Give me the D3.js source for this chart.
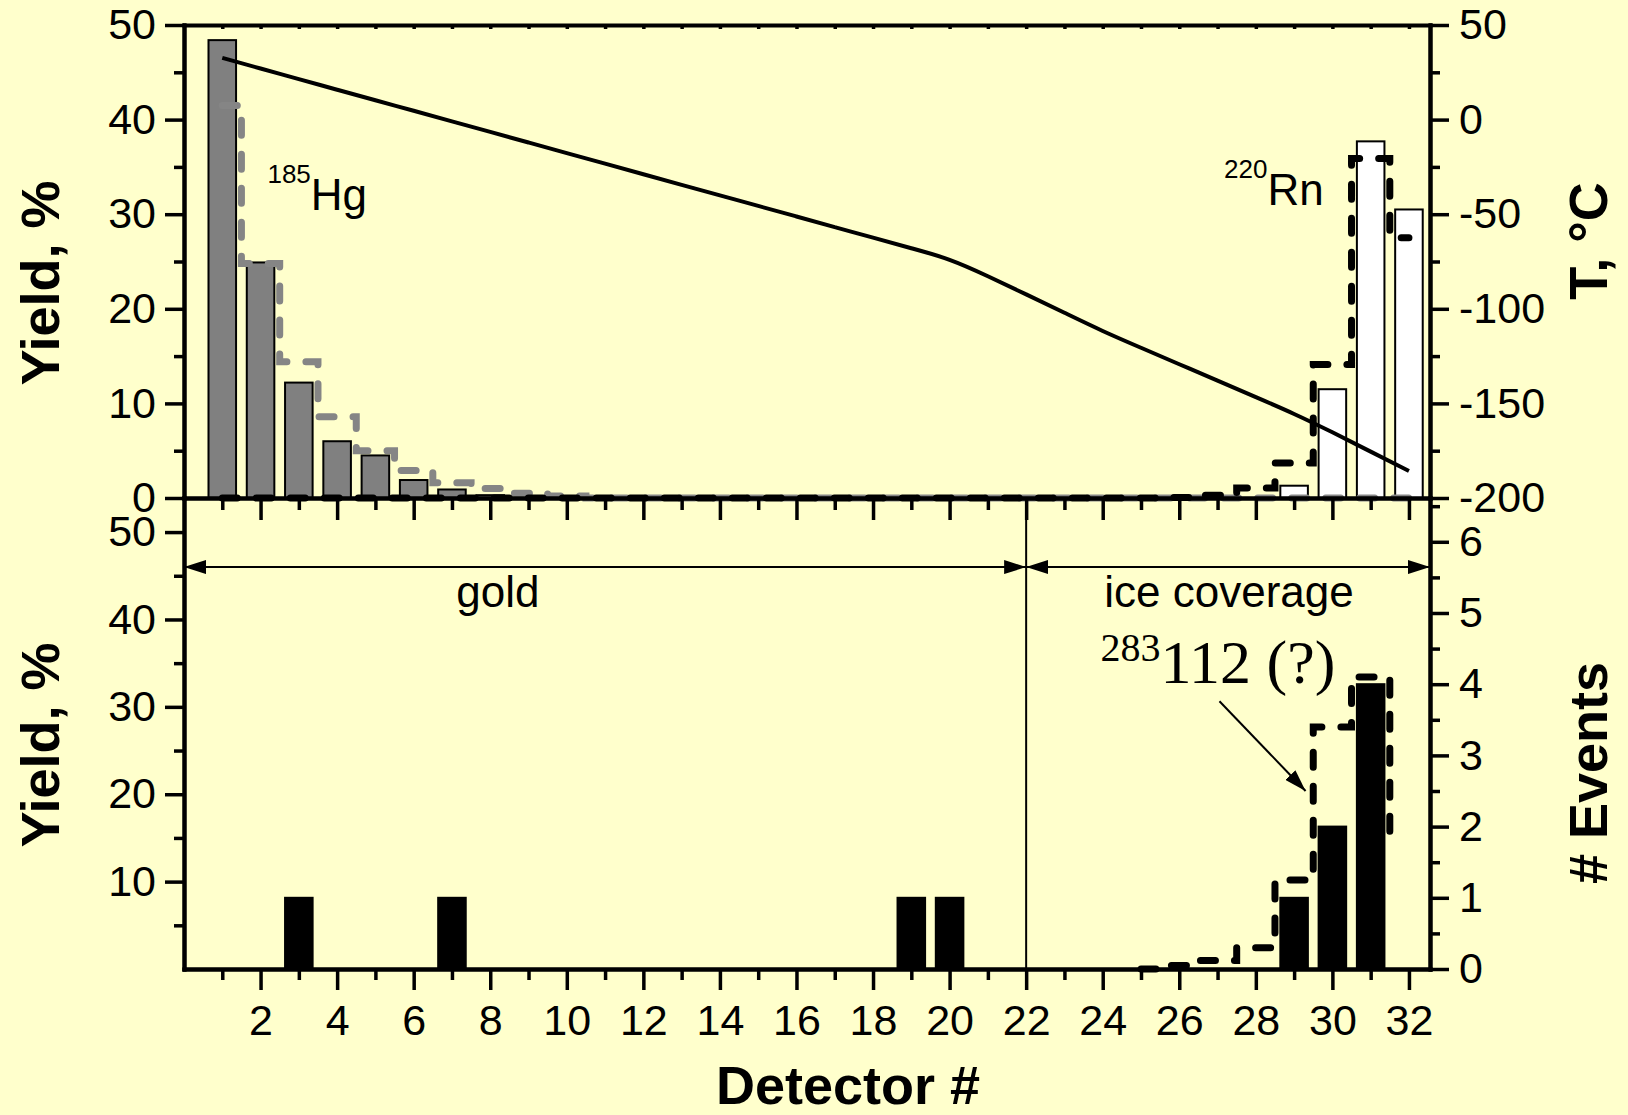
<!DOCTYPE html>
<html>
<head>
<meta charset="utf-8">
<script src="https://cdn.jsdelivr.net/npm/d3@7"></script>
<style>
  html, body { margin: 0; padding: 0; background: #ffffcc; }
  svg text { font-family: "Liberation Sans", Arial, sans-serif; fill: #000; }
</style>
</head>
<body>
<div id="chart"></div>
<script>
// detector numbers along the column
const detectors = d3.range(1, 33);

// top panel: measured yields, %
const hgDetectors = [1, 2, 3, 4, 5, 6, 7, 8];
const hgYield = [48.4, 24.9, 12.2, 6.0, 4.5, 1.9, 0.9, 0.3];
const rnDetectors = [29, 30, 31, 32];
const rnYield = [1.3, 11.5, 37.7, 30.5];

// top panel: simulated distributions (one value per detector 1..32)
const hgSim = [41.5, 24.8, 14.4, 8.6, 5.0, 2.9, 1.6, 1.0, 0.5, 0.2,
  0, 0, 0, 0, 0, 0, 0, 0, 0, 0, 0, 0, 0, 0, 0, 0, 0, 0, 0, 0, 0, 0];
const rnSim = [0, 0, 0, 0, 0, 0, 0, 0, 0, 0, 0, 0, 0, 0, 0, 0, 0, 0, 0, 0,
  0, 0, 0, 0, 0, 0.05, 0.3, 1.05, 3.7, 14.1, 35.9, 27.5];

// temperature profile, °C (detector 1..32)
const temperature = [32.6, 27.0, 21.4, 15.8, 10.2, 4.7, -0.9, -6.5, -12.1, -17.7,
  -23.3, -28.9, -34.5, -40.1, -45.6, -51.2, -56.8, -62.4, -68.0, -73.5,
  -82.7, -92.4, -102.1, -111.9, -120.6, -129.3, -138.0, -146.7, -155.4, -165.2,
  -175.5, -185.7];

// bottom panel: observed events and simulation
const eventDetectors = [3, 7, 19, 20, 29, 30, 31];
const eventCounts = [1, 1, 1, 1, 1, 2, 4];
const eventSimDetectors = [25, 26, 27, 28, 29, 30, 31, 32];
const eventSim = [0, 0.05, 0.12, 0.3, 1.25, 3.4, 4.1, 1.9];

// tick values
const xMajor = d3.range(2, 33, 2);
const xMinor = d3.range(1, 33, 2);
const topYieldTicks = [0, 10, 20, 30, 40, 50];
const topYieldMinor = [5, 15, 25, 35, 45];
const tempTicks = [-200, -150, -100, -50, 0, 50];
const tempMinor = [-175, -125, -75, -25, 25];
const botYieldTicks = [10, 20, 30, 40, 50];
const botYieldMinor = [5, 15, 25, 35, 45];
const eventTicks = [0, 1, 2, 3, 4, 5, 6];
const eventMinor = [0.5, 1.5, 2.5, 3.5, 4.5, 5.5, 6.5];

const width = 1628;
const height = 1115;
const left = 184, right = 1430;
const topY = 25, midY = 498, botY = 969;

const svg = d3.select("#chart").append("svg")
  .attr("width", width)
  .attr("height", height);

svg.append("rect").attr("width", width).attr("height", height).attr("fill", "#ffffcc");

const x = d3.scaleLinear().domain([0, 32.55]).range([left, right]);
const yTop = d3.scaleLinear().domain([0, 50]).range([midY, topY]);
const yTemp = d3.scaleLinear().domain([-200, 50]).range([midY, topY]);
const yBot = d3.scaleLinear().domain([0, 53.9]).range([botY, midY]);
const yEv = d3.scaleLinear().domain([0, 6.615]).range([botY, midY]);

const step = x(1) - x(0);
const bw = step * 0.72;

const defs = svg.append("defs");

// ---- top panel ----
const topG = svg.append("g");

topG.selectAll("rect.hg")
  .data(hgDetectors)
  .join("rect")
  .attr("class", "hg")
  .attr("x", (d) => x(d) - bw / 2)
  .attr("y", (d, i) => yTop(hgYield[i]))
  .attr("width", bw)
  .attr("height", (d, i) => yTop(0) - yTop(hgYield[i]))
  .attr("fill", "#808080")
  .attr("stroke", "#000")
  .attr("stroke-width", 2);

topG.selectAll("rect.rn")
  .data(rnDetectors)
  .join("rect")
  .attr("class", "rn")
  .attr("x", (d) => x(d) - bw / 2)
  .attr("y", (d, i) => yTop(rnYield[i]))
  .attr("width", bw)
  .attr("height", (d, i) => yTop(0) - yTop(rnYield[i]))
  .attr("fill", "#ffffff")
  .attr("stroke", "#000")
  .attr("stroke-width", 2);

const stepLine = (ys) => d3.line()
  .x((d) => x(d[0]))
  .y((d) => ys(d[1]))
  .curve(d3.curveStep);

topG.append("path")
  .datum(detectors.map((d, i) => [d, hgSim[i]]))
  .attr("d", stepLine(yTop))
  .attr("fill", "none")
  .attr("stroke", "#858585")
  .attr("stroke-width", 7)
  .attr("stroke-linecap", "round")
  .attr("stroke-dasharray", "15,19");

topG.append("path")
  .datum(detectors.map((d, i) => [d, rnSim[i]]))
  .attr("d", stepLine(yTop))
  .attr("fill", "none")
  .attr("stroke", "#000")
  .attr("stroke-width", 7)
  .attr("stroke-linecap", "round")
  .attr("stroke-dasharray", "15,19");

topG.append("path")
  .datum(detectors.map((d, i) => [d, temperature[i]]))
  .attr("d", d3.line().x((d) => x(d[0])).y((d) => yTemp(d[1])).curve(d3.curveBasis))
  .attr("fill", "none")
  .attr("stroke", "#000")
  .attr("stroke-width", 4);

// ---- bottom panel ----
const botG = svg.append("g");

botG.append("line")
  .attr("x1", x(22)).attr("x2", x(22))
  .attr("y1", midY).attr("y2", botY)
  .attr("stroke", "#000")
  .attr("stroke-width", 2);

botG.selectAll("rect.ev")
  .data(eventDetectors)
  .join("rect")
  .attr("class", "ev")
  .attr("x", (d) => x(d) - bw / 2)
  .attr("y", (d, i) => yEv(eventCounts[i]))
  .attr("width", bw)
  .attr("height", (d, i) => yEv(0) - yEv(eventCounts[i]))
  .attr("fill", "#000")
  .attr("stroke", "#000")
  .attr("stroke-width", 2);

// simulation stops at the last bin edge, the tail after it is clipped
defs.append("clipPath").attr("id", "simclip")
  .append("rect")
  .attr("x", 0).attr("y", 0)
  .attr("width", x(31.5) + 5).attr("height", height);

botG.append("path")
  .datum(eventSimDetectors.map((d, i) => [d, eventSim[i]]))
  .attr("d", stepLine(yEv))
  .attr("clip-path", "url(#simclip)")
  .attr("fill", "none")
  .attr("stroke", "#000")
  .attr("stroke-width", 7)
  .attr("stroke-linecap", "round")
  .attr("stroke-dasharray", "15,19");

// arrow markers
defs.append("marker")
  .attr("id", "head")
  .attr("markerUnits", "userSpaceOnUse")
  .attr("viewBox", "0 0 22 14")
  .attr("refX", 22).attr("refY", 7)
  .attr("markerWidth", 22).attr("markerHeight", 14)
  .attr("orient", "auto-start-reverse")
  .append("path")
  .attr("d", "M0,0L22,7L0,14Z")
  .attr("fill", "#000");

const arrowY = yBot(46);
[[0, 22], [22, 32.55]].forEach(([a, b]) => {
  botG.append("line")
    .attr("x1", x(a)).attr("x2", x(b))
    .attr("y1", arrowY).attr("y2", arrowY)
    .attr("stroke", "#000")
    .attr("stroke-width", 2)
    .attr("marker-start", "url(#head)")
    .attr("marker-end", "url(#head)");
});

botG.append("line")
  .attr("x1", x(27.05)).attr("y1", yEv(3.76))
  .attr("x2", x(29.3)).attr("y2", yEv(2.5))
  .attr("stroke", "#000")
  .attr("stroke-width", 2)
  .attr("marker-end", "url(#head)");

// ---- axes ----
function styleAxis(g) {
  g.select(".domain").attr("stroke", "#000").attr("stroke-width", 4).attr("stroke-linecap", "square");
  g.selectAll(".tick line").attr("stroke", "#000").attr("stroke-width", 3.5);
  g.selectAll(".tick text").attr("font-size", 43).attr("font-family", "Liberation Sans, Arial, sans-serif").attr("fill", "#000");
}

function axis(make, transform, major, minor, majLen, minLen, pad, showLabels) {
  const g1 = svg.append("g").attr("transform", transform)
    .call(make().tickValues(major).tickSize(majLen).tickSizeOuter(0).tickPadding(pad)
      .tickFormat(showLabels ? (d) => String(d) : () => ""));
  styleAxis(g1);
  if (minor) {
    const g2 = svg.append("g").attr("transform", transform)
      .call(make().tickValues(minor).tickSize(minLen).tickSizeOuter(0).tickFormat(() => ""));
    styleAxis(g2);
  }
  return g1;
}

// top frame with small inward ticks
axis(() => d3.axisBottom(x), `translate(0,${topY})`, detectors, null, 4, 0, 0, false);
// shared middle axis
axis(() => d3.axisBottom(x), `translate(0,${midY})`, xMajor, xMinor, 22, 12, 0, false);
// bottom axis
axis(() => d3.axisBottom(x), `translate(0,${botY})`, xMajor, xMinor, 21, 11, 14, true);

axis(() => d3.axisLeft(yTop), `translate(${left},0)`, topYieldTicks, topYieldMinor, 19, 10, 9, true);
axis(() => d3.axisRight(yTemp), `translate(${right},0)`, tempTicks, tempMinor, 19, 10, 10, true);
axis(() => d3.axisLeft(yBot), `translate(${left},0)`, botYieldTicks, botYieldMinor, 19, 10, 9, true);
axis(() => d3.axisRight(yEv), `translate(${right},0)`, eventTicks, eventMinor, 19, 10, 10, true);

// ---- titles ----
const title = (tx, ty, rot, txt) => svg.append("text")
  .attr("transform", `translate(${tx},${ty}) rotate(${rot})`)
  .attr("text-anchor", "middle")
  .attr("font-size", 54)
  .attr("font-weight", "bold")
  .text(txt);

title(59, 283, -90, "Yield, %");
title(59, 745, -90, "Yield, %");
title(1607, 241, -90, "T, °C");
title(1607, 773, -90, "# Events");
title(848, 1104, 0, "Detector #");

// ---- annotations ----
function isotope(detX, yv, ys, mass, sym) {
  const t = svg.append("text")
    .attr("x", x(detX))
    .attr("y", ys(yv))
    .attr("font-size", 44);
  t.append("tspan").attr("font-size", 26).attr("dy", -27).text(mass);
  t.append("tspan").attr("dy", 27).text(sym);
}
isotope(2.18, 30.4, yTop, "185", "Hg");
isotope(27.17, 31.0, yTop, "220", "Rn");

svg.append("text")
  .attr("x", x(8.2)).attr("y", yBot(41.4))
  .attr("text-anchor", "middle")
  .attr("font-size", 44)
  .text("gold");

svg.append("text")
  .attr("x", x(27.3)).attr("y", yBot(41.4))
  .attr("text-anchor", "middle")
  .attr("font-size", 44)
  .text("ice coverage");

const e112 = svg.append("text")
  .attr("x", x(23.94)).attr("y", yEv(4.02))
  .style("font-family", "'Liberation Serif', 'Times New Roman', serif")
  .attr("font-size", 62);
e112.append("tspan").attr("font-size", 40).attr("dy", -22).text("283");
e112.append("tspan").attr("dy", 22).text("112 (?)");
</script>
</body>
</html>
